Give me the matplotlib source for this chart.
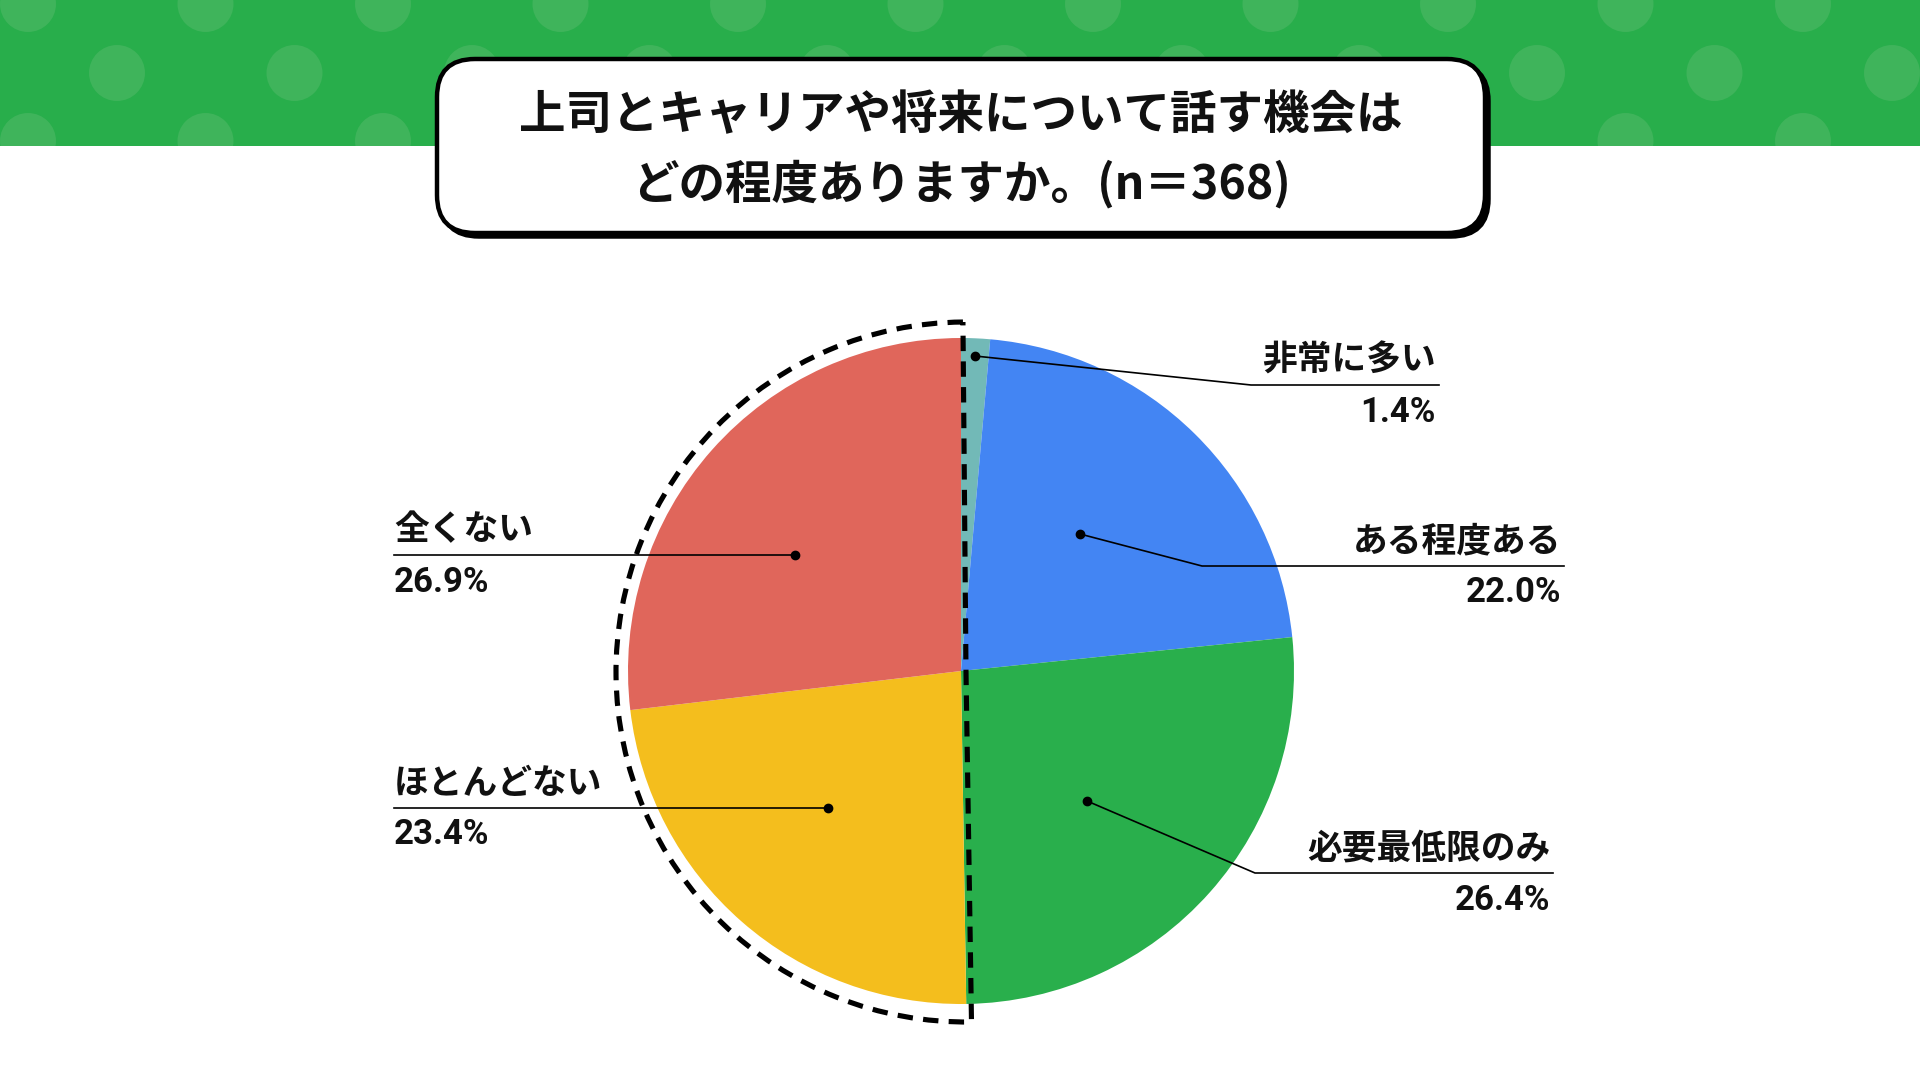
import matplotlib
matplotlib.use("Agg")
import matplotlib.pyplot as plt
from matplotlib.patches import Rectangle, Circle, FancyBboxPatch, Wedge

plt.rcParams['font.family'] = ['Noto Sans CJK JP', 'DejaVu Sans']

# data
labels = ['非常に多い', 'ある程度ある', '必要最低限のみ', 'ほとんどない', '全くない']
values = [1.4, 22.0, 26.4, 23.4, 26.9]
colors = ['#72B9B7', '#4385F3', '#29AF4C', '#F4BE1D', '#E0665B']
title_line1 = '上司とキャリアや将来について話す機会は'
title_line2 = 'どの程度ありますか。(n＝368)'

# layout in pixels (y measured from the top of the image)
W, H = 1920, 1090
def Y(y):
    return H - y

pie_cx, pie_cy, pie_r = 961, 671, 333
# label anchor: dot point, underline y, underline x-range, side
label_layout = [
    ((975, 356), 385, (1251, 1439), 'right'),
    ((1080, 534), 566, (1202, 1564), 'right'),
    ((1087, 801), 873, (1255, 1553), 'right'),
    ((828, 808), 808, (394, 828), 'left'),
    ((795, 555), 555, (394, 795), 'left'),
]

fig = plt.figure(figsize=(W / 100, H / 100), dpi=100)
ax = fig.add_axes([0, 0, 1, 1])

# green banner with dots
banner = Rectangle((0, Y(146)), W, 146, facecolor='#28AE4B', edgecolor='none', zorder=0)
ax.add_patch(banner)
for row_y, x0 in [(4, 28), (73, 117), (141, 28)]:
    x = x0
    while x < W + 40:
        c = Circle((x, Y(row_y)), 28, facecolor='#3FB45B', edgecolor='none', zorder=1)
        ax.add_patch(c)
        c.set_clip_path(banner)
        x += 177.5

# title box with offset shadow
shadow = FancyBboxPatch((441, Y(237)), 1048, 174, boxstyle='round,pad=0,rounding_size=38',
                        facecolor='black', edgecolor='black', linewidth=2.5, zorder=2)
box = FancyBboxPatch((437, Y(233)), 1048, 174, boxstyle='round,pad=0,rounding_size=38',
                     facecolor='white', edgecolor='black', linewidth=3.2, zorder=3)
ax.add_patch(shadow)
ax.add_patch(box)
ax.text(961, Y(115), title_line1, ha='center', va='center', fontsize=33.5,
        fontweight='bold', color='#111111', zorder=4)
ax.text(961, Y(184), title_line2, ha='center', va='center', fontsize=33.5,
        fontweight='bold', color='#111111', zorder=4)

# pie
ax.pie(values, colors=colors, startangle=90, counterclock=False,
       center=(pie_cx, Y(pie_cy)), radius=pie_r, wedgeprops=dict(linewidth=0))

# dashed outline around the negative half
dash = Wedge((966, Y(672)), 350, 90.5, 270.9, facecolor='none', edgecolor='black',
             linewidth=3.7, linestyle=(0, (3.0, 2.0)), joinstyle='round', zorder=6)
ax.add_patch(dash)

# labels with leader lines
for lab, val, (dot, uy, (ux0, ux1), side) in zip(labels, values, label_layout):
    dx, dy = dot
    ax.plot([dx], [Y(dy)], 'o', color='black', markersize=6, zorder=8)
    if side == 'right':
        ax.plot([dx, ux0, ux1], [Y(dy), Y(uy), Y(uy)], color='black', linewidth=1.2, zorder=7)
        tx, ha = ux1 - 3, 'right'
    else:
        ax.plot([ux0, ux1], [Y(uy), Y(uy)], color='black', linewidth=1.2, zorder=7)
        tx, ha = ux0, 'left'
    ax.text(tx, Y(uy - 25), lab, ha=ha, va='center', fontsize=25, fontweight='bold',
            color='#111111', zorder=8)
    ax.text(tx, Y(uy + 27), f'{val:.1f}%', ha=ha, va='center', fontsize=25,
            fontweight='bold', color='#111111', zorder=8,
            family=['Roboto', 'Noto Sans CJK JP'])

ax.set_xlim(0, W)
ax.set_ylim(0, H)
ax.set_aspect('equal')
ax.axis('off')

fig.savefig('out.png', dpi=100, facecolor='white')
